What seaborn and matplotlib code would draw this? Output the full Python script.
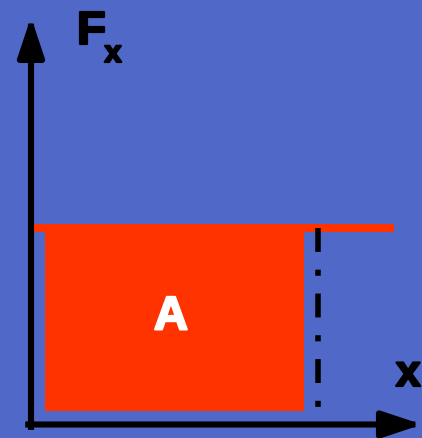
import matplotlib
matplotlib.use("Agg")
import matplotlib.pyplot as plt
import matplotlib.patheffects as pe
import seaborn as sns

# diagram values (arbitrary units, origin at the axes corner)
force = 1.0
force_line_end = 9.28
area_left = 0.366
area_right = 6.98
area_bottom = 0.069
area_top = 0.98
marker_x = 7.35
marker_bottom = 0.084
x_axis_end = 10.0
y_axis_end = 2.074

bg = "#5068c8"
red = "#ff3300"

sns.set_style("white")
plt.rcParams["font.family"] = ["Liberation Sans", "DejaVu Sans"]

fig = plt.figure(figsize=(4.22, 4.38), dpi=100, facecolor=bg)
ax = fig.add_axes([0, 0, 1, 1])
ax.set_facecolor(bg)
ax.set_xlim(-0.7928, 10.0)
ax.set_ylim(-0.0687, 2.1603)
ax.axis("off")

# area under the force
ax.bar(area_left, area_top - area_bottom, width=area_right - area_left,
       bottom=area_bottom, align="edge", color=red, linewidth=0, zorder=2)

# constant force line
ax.plot([0, force_line_end], [force, force], color=red, lw=5.8,
        solid_capstyle="butt", zorder=3)

# dash-dot marker
ax.plot([marker_x, marker_x], [force, marker_bottom], color="black", lw=4.0,
        dashes=(4.3, 3.2, 1.1, 3.2), dash_capstyle="butt", zorder=3)

# axes arrows
arrow = dict(arrowstyle="-|>,head_length=24,head_width=8", mutation_scale=1,
             color="black", lw=4.4, shrinkA=0, shrinkB=0, capstyle="projecting")
ax.annotate("", xy=(0, y_axis_end), xytext=(0, -0.012), arrowprops=arrow, zorder=4)
ax.annotate("", xy=(x_axis_end, 0), xytext=(-0.07, 0), arrowprops=arrow, zorder=4)

# labels
heavy_k = [pe.withStroke(linewidth=1.6, foreground="black")]
heavy_w = [pe.withStroke(linewidth=1.6, foreground="white")]
ax.text(1.176, 1.936, "F", fontsize=34, fontweight="bold", color="black",
        ha="left", va="baseline", path_effects=heavy_k)
ax.text(1.88, 1.845, "x", fontsize=22, fontweight="bold", color="black",
        ha="left", va="baseline", path_effects=heavy_k)
ax.text(9.33, 0.196, "x", fontsize=32, fontweight="bold", color="black",
        ha="left", va="baseline", path_effects=heavy_k)
ax.text(3.58, 0.545, "A", fontsize=34, fontweight="bold", color="white",
        ha="center", va="center", zorder=5, path_effects=heavy_w)

fig.savefig("out.png", dpi=100, facecolor=bg)
